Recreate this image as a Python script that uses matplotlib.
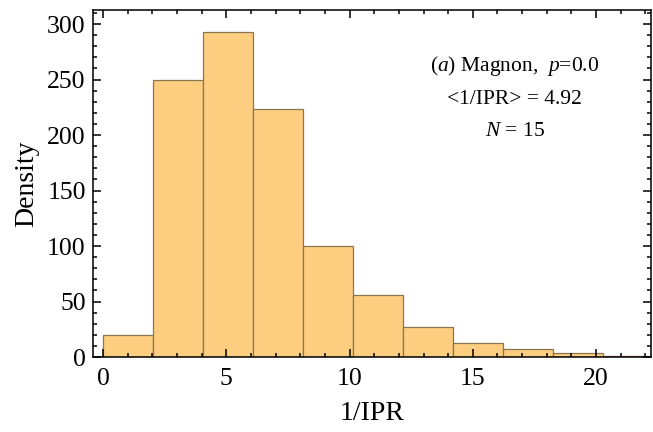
import numpy as np
import matplotlib
matplotlib.use('Agg')
from matplotlib import pyplot as plt
from matplotlib.ticker import MultipleLocator

plt.rcParams['font.family'] = 'Liberation Serif'
plt.rcParams['mathtext.fontset'] = 'custom'
plt.rcParams['mathtext.rm'] = 'Liberation Serif'
plt.rcParams['mathtext.it'] = 'Liberation Serif:italic'

# histogram (bin width ~2.03)
bin_width = 2.03
bin_starts = [0, 2.03, 4.06, 6.09, 8.12, 10.15, 12.18, 14.21, 16.24, 18.27, 20.3]
density = [20, 250, 293, 223, 100, 55.5, 27, 13, 7.5, 4, 1]

x_ticks = [0, 5, 10, 15, 20]
y_ticks = [0, 50, 100, 150, 200, 250, 300]

fig = plt.figure(figsize=(6.53, 4.32), dpi=100)
ax = fig.add_axes([0.142, 0.1736, 0.855, 0.8032])

ax.bar(bin_starts, density, width=bin_width, align='edge',
       color='#fdce80', edgecolor='#8a7650', linewidth=0.9)

ax.set_xlim(-0.42, 22.23)
ax.set_ylim(0, 312.6)
ax.set_xticks(x_ticks)
ax.set_yticks(y_ticks)
ax.xaxis.set_minor_locator(MultipleLocator(1))
ax.yaxis.set_minor_locator(MultipleLocator(10))
ax.tick_params(which='both', direction='in', top=True, right=True,
               labelsize=18.5, width=1.1, color='black')
ax.tick_params(which='major', length=6)
ax.tick_params(which='minor', length=3)
ax.tick_params(axis='x', which='major', pad=8)
ax.tick_params(axis='y', which='major', pad=5)
for s in ax.spines.values():
    s.set_linewidth(1.1)

ax.set_xlabel('1/IPR', fontsize=20, labelpad=8)
ax.set_ylabel('Density', fontsize=20, labelpad=6)

tx = 0.756
ax.text(tx, 0.838, r'($\it{a}$) Magnon,  $\it{p}$=0.0', transform=ax.transAxes,
        ha='center', va='center', fontsize=15.5)
ax.text(tx, 0.743, '<1/IPR> = 4.92', transform=ax.transAxes,
        ha='center', va='center', fontsize=15.5)
ax.text(tx, 0.651, r'$N$ = 15', transform=ax.transAxes,
        ha='center', va='center', fontsize=15.5)

fig.savefig('out.png', dpi=100)
